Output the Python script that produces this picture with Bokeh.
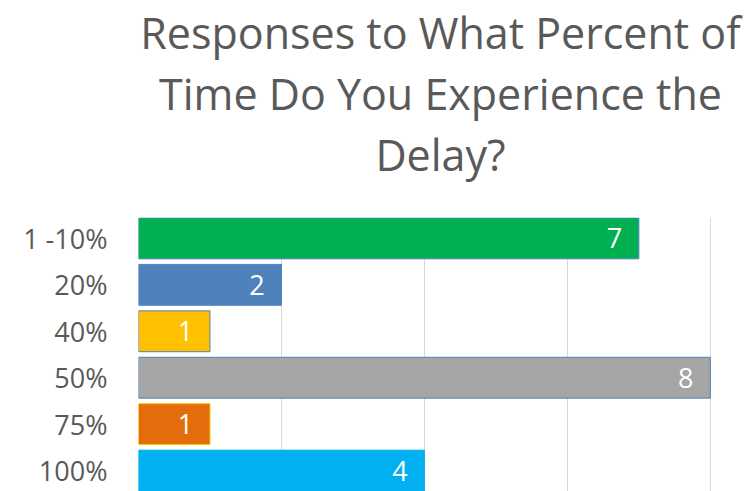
from bokeh.plotting import figure
from bokeh.models import ColumnDataSource, FactorRange, Range1d, FixedTicker, Title, LabelSet
from bokeh.core.properties import value
from bokeh.embed import file_html
from bokeh.resources import INLINE

categories = ["1 -10%", "20%", "40%", "50%", "75%", "100%"]
counts = [7, 2, 1, 8, 1, 4]
fill_colors = ["#00B050", "#4F81BD", "#FFC000", "#A5A5A5", "#E46C0A", "#00B0F0"]
edge_colors = ["#4F81BD", "#4F81BD", "#4F81BD", "#4F81BD", "#FFC000", "#00B0F0"]
grid_ticks = [0, 2, 4, 6, 8]
title_lines = ["Responses to What Percent of", "Time Do You Experience the", "Delay?"]

src = ColumnDataSource(dict(cat=categories, val=counts, fill=fill_colors, edge=edge_colors,
                            lab=[str(v) for v in counts]))

p = figure(width=751, height=491, output_backend="svg", toolbar_location=None,
           y_range=FactorRange(factors=list(reversed(categories)), range_padding=-0.0167),
           x_range=Range1d(0, 8.45),
           min_border_left=138, min_border_right=9, min_border_bottom=0, min_border_top=0)
p.title = None
# spacer between title block and plot area
p.add_layout(Title(text=" ", text_font="Open Sans", text_font_size="23px", standoff=0), "above")
for line in reversed(title_lines):
    p.add_layout(Title(text=line, align="center", text_font="Open Sans",
                       text_font_size="43px", text_font_style="normal", text_color="#595959",
                       standoff=0), "above")

p.hbar(y="cat", right="val", left=0, height=0.88, source=src,
       fill_color="fill", line_color="edge", line_width=1)

labels = LabelSet(x="val", y="cat", text="lab", source=src, x_offset=-24.5,
                  text_align="center", text_baseline="middle", text_color="white",
                  text_font=value("Open Sans"), text_font_size="27px")
p.add_layout(labels)

p.xaxis.visible = False
p.xgrid.ticker = FixedTicker(ticks=grid_ticks)
p.xgrid.grid_line_color = "#D9D9D9"
p.xgrid.grid_line_width = 1
p.ygrid.grid_line_color = None

p.yaxis.axis_line_color = None
p.yaxis.major_tick_line_color = None
p.yaxis.minor_tick_line_color = None
p.yaxis.major_label_text_font = "Open Sans"
p.yaxis.major_label_text_font_size = "27px"
p.yaxis.major_label_text_color = "#595959"
p.yaxis.major_label_standoff = 25

p.outline_line_color = None
p.background_fill_color = "white"
p.border_fill_color = "white"

open("out.html", "w").write(file_html(p, INLINE))
